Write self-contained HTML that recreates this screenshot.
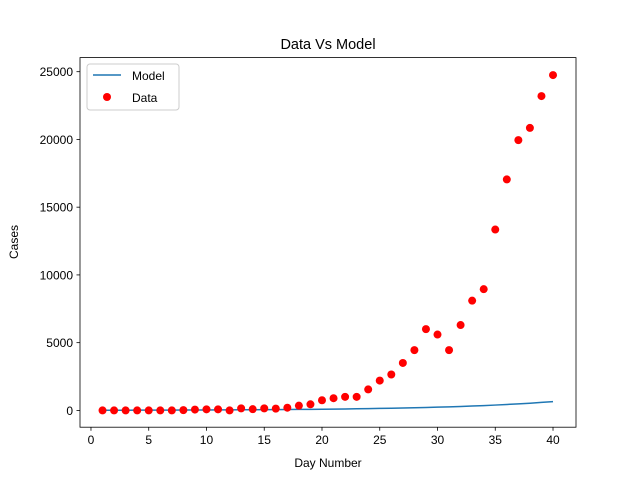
<!DOCTYPE html>
<html><head><meta charset="utf-8"><style>
body{margin:0;background:#fff;}
svg{display:block;font-family:"Liberation Sans","DejaVu Sans",sans-serif;}
</style></head><body>
<svg id="chart" width="640" height="480">
<rect x="0" y="0" width="640" height="480" fill="#fff"/>
<text x="328" y="49" text-anchor="middle" font-size="14.5">Data Vs Model</text>
<g id="plot"></g>
<rect x="80" y="57.6" width="496" height="369.6" fill="none" stroke="#000" stroke-width="0.8"/>
<text x="328" y="467" text-anchor="middle" font-size="12">Day Number</text>
<text transform="translate(18,242) rotate(-90)" text-anchor="middle" font-size="12">Cases</text>
<g>
<rect x="87" y="64" width="92" height="46" rx="3" fill="#fff" stroke="#ccc"/>
<line x1="93" y1="75" x2="121" y2="75" stroke="#1f77b4" stroke-width="1.5"/>
<text x="132" y="80" font-size="12">Model</text>
<circle cx="107" cy="97" r="4" fill="#f00"/>
<text x="132" y="102" font-size="12">Data</text>
</g>
</svg>
<script>
const days=[1,2,3,4,5,6,7,8,9,10,11,12,13,14,15,16,17,18,19,20,21,22,23,24,25,26,27,28,29,30,31,32,33,34,35,36,37,38,39,40];
const dataCases=[0,0,0,0,0,0,0,20,60,80,80,0,150,90,150,130,200,350,450,750,900,1000,1000,1550,2200,2650,3500,4450,6000,5600,4450,6300,8100,8950,13350,17050,19950,20850,23200,24750];
const modelCases=[13,15,15,18,20,22,22,26,29,32,36,40,44,48,54,59,65,72,80,88,97,107,119,131,145,160,177,196,217,239,264,292,323,357,394,436,482,532,588,650];
const xTicks=[0,5,10,15,20,25,30,35,40];
const yTicks=[0,5000,10000,15000,20000,25000];
const L=80,R=576,T=57.6,B=427.2;
const xmin=-0.95,xmax=41.99;
const ymin=-1240,ymax=26040;
const sx=v=>L+(v-xmin)/(xmax-xmin)*(R-L);
const sy=v=>B-(v-ymin)/(ymax-ymin)*(B-T);
const g=document.getElementById('plot');
const NS='http://www.w3.org/2000/svg';
function mk(t,a){const e=document.createElementNS(NS,t);for(const k in a)e.setAttribute(k,a[k]);g.appendChild(e);return e;}
xTicks.forEach(v=>{
 const l=mk('line',{x1:sx(v),x2:sx(v),y1:B,y2:B+3.5,stroke:'#000','stroke-width':0.8});
 
 
 const t=mk('text',{x:sx(v),y:B+17,'text-anchor':'middle','font-size':12});
 t.textContent=v;
 
 
});
yTicks.forEach(v=>{
 const l=mk('line',{x1:L-3.5,x2:L,y1:sy(v),y2:sy(v),stroke:'#000','stroke-width':0.8});
 
 
 const t=mk('text',{x:L-7,y:sy(v)+4.5,'text-anchor':'end','font-size':12});
 t.textContent=v;
 
 
});
const p=mk('polyline',{points:days.map((d,i)=>sx(d)+','+sy(modelCases[i])).join(' '),fill:'none',stroke:'#1f77b4','stroke-width':1.5});


days.forEach((d,i)=>{
 const c=mk('circle',{cx:sx(d),cy:sy(dataCases[i]),r:4,fill:'#f00'});
 
 
});
</script>
</body></html>
